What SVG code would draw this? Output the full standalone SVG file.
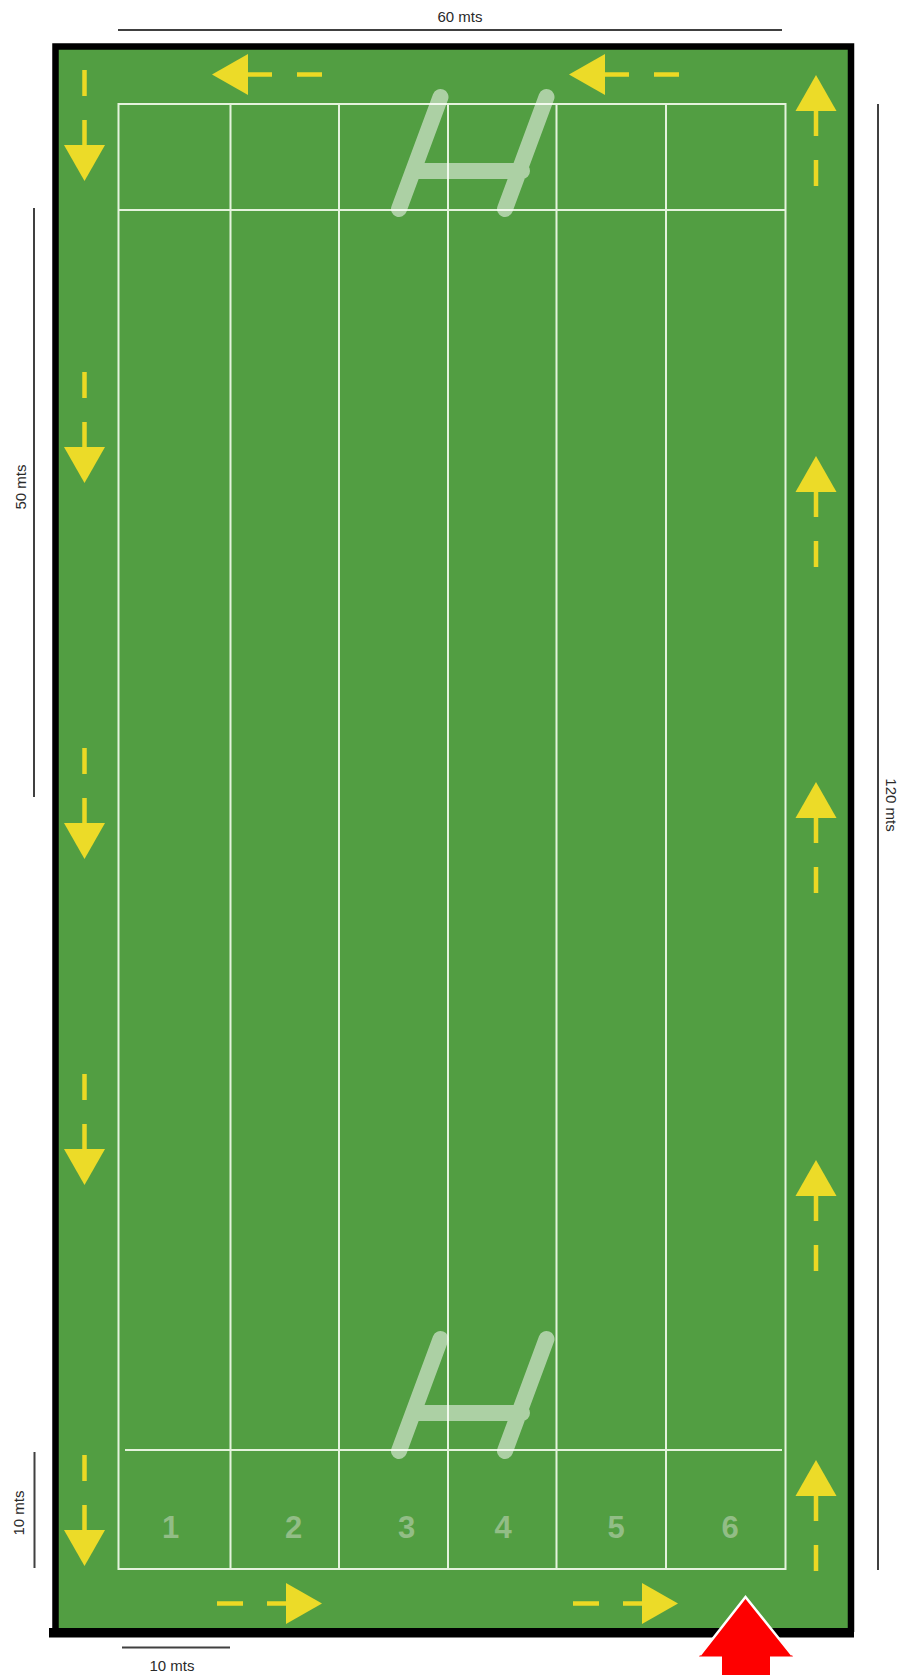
<svg xmlns="http://www.w3.org/2000/svg" width="901" height="1675" viewBox="0 0 901 1675">
<style>
.t{font-family:"Liberation Sans",Arial,sans-serif;font-size:15px;fill:#2a2a2a;text-anchor:middle}
.n{font-family:"Liberation Sans",Arial,sans-serif;font-size:31px;font-weight:bold;fill:#92bd86;text-anchor:middle}
.d{stroke:#404040;stroke-width:2;fill:none}
.l{stroke:#e4f3dc;stroke-width:2;fill:none}
.goal{opacity:.52}
.g{stroke:#fff;stroke-width:16;stroke-linecap:round;fill:none}
.y{stroke:#ecd924;stroke-width:4.500;fill:none}
.h{fill:#ecdb28}
</style>
<defs>
<g id="down"><path class="y" d="M0 0V26M0 50V76"/><path class="h" d="M-20.500 75H20.500L0 111Z"/></g>
<g id="up"><path class="y" d="M0 111V85M0 61V35"/><path class="h" d="M-20.500 36H20.500L0 0Z"/></g>
<g id="left"><path class="y" d="M110 0H85M60 0H35"/><path class="h" d="M36 -20.500V20.500L0 0Z"/></g>
<g id="right"><path class="y" d="M0 0H26M50 0H70"/><path class="h" d="M69 -20.500V20.500L105 0Z"/></g>
</defs>
<rect width="901" height="1675" fill="#fff"/>
<g id="pitch">
<rect x="55" y="46.500" width="796" height="1585" fill="#529e42"/>
<path d="M55.500 1632V46.500H851V1632" fill="none" stroke="#000" stroke-width="6.500"/>
<rect x="49" y="1628" width="805" height="9.500" fill="#000"/>
</g>
<g id="lines">
<path class="l" d="M118.500 104H785.500V1569H118.500ZM118.500 210H785.500M125 1450H782M230.500 104V1569M339 104V1569M448 104V1569M556.500 104V1569M666 104V1569"/>
</g>
<g id="goal-top" class="goal">
<path class="g" d="M440.500 97L399 209M546.500 97L505 209M418 171H522"/>
</g>
<g id="goal-bottom" class="goal">
<path class="g" d="M440.500 1339L399 1451M546.500 1339L505 1451M418 1413H522"/>
</g>
<g id="arrows">
<use href="#down" x="84.500" y="70"/>
<use href="#down" x="84.500" y="372"/>
<use href="#down" x="84.500" y="748"/>
<use href="#down" x="84.500" y="1074"/>
<use href="#down" x="84.500" y="1455"/>
<use href="#up" x="816" y="75"/>
<use href="#up" x="816" y="456"/>
<use href="#up" x="816" y="782"/>
<use href="#up" x="816" y="1160"/>
<use href="#up" x="816" y="1460"/>
<use href="#left" x="212" y="74.500"/>
<use href="#left" x="569" y="74.500"/>
<use href="#right" x="217" y="1603.500"/>
<use href="#right" x="573" y="1603.500"/>
</g>
<g id="entry-arrow">
<path d="M745.500 1597L699 1656.500H722V1675H770V1656.500H793Z" fill="#fe0000"/>
<path d="M700 1655L745.500 1597L792 1655" fill="none" stroke="#fff" stroke-width="2.500"/>
</g>
<g id="numbers">
<text class="n" x="170.500" y="1538">1</text>
<text class="n" x="293.500" y="1538">2</text>
<text class="n" x="406.500" y="1538">3</text>
<text class="n" x="503" y="1538">4</text>
<text class="n" x="616" y="1538">5</text>
<text class="n" x="730" y="1538">6</text>
</g>
<g id="dimensions">
<path class="d" d="M118 30H782M34 208V797M878 104V1570M34.500 1452V1568M122 1647.500H230"/>
<text class="t" x="460" y="22">60 mts</text>
<text class="t" transform="translate(26 487) rotate(-90)">50 mts</text>
<text class="t" transform="translate(886 805) rotate(90)">120 mts</text>
<text class="t" transform="translate(24 1513) rotate(-90)">10 mts</text>
<text class="t" x="172" y="1671">10 mts</text>
</g>
</svg>
